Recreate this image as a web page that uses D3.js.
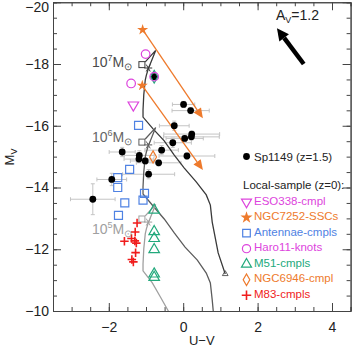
<!DOCTYPE html>
<html>
<head>
<meta charset="utf-8">
<script src="https://cdn.jsdelivr.net/npm/d3@7"></script>
<style>
body { margin: 0; background: #fff; }
svg { display: block; font-family: "Liberation Sans", Arial, sans-serif; }
</style>
</head>
<body>
<div id="chart"></div>
<script>
// Sp1149 knots (z=1.5) with error bars
var spX    = [0.01, 0.20, -0.24, 0.23, 0.22, 0.04, -0.28, -0.58, 0.10, -0.66, -0.93, -1.64, -1.18, -1.19, -1.02, -1.92, -2.43, -0.78];
var spY    = [-16.69, -16.49, -16.00, -15.73, -15.64, -15.59, -15.45, -15.21, -15.02, -14.80, -14.43, -15.15, -15.04, -14.92, -14.86, -14.26, -13.62, -17.59];
var spXErr = [0.3, 0.5, 0.4, 0.75, 0.75, 0.5, 0.5, 0.45, 0.75, 0.6, 0.7, 0.35, 0.4, 0.4, 0.4, 0.4, 0.6, 0];
var spYErr = [0.1, 0.1, 0.15, 0.1, 0.1, 0.1, 0.15, 0.15, 0.1, 0.1, 0.15, 0.15, 0.15, 0.1, 0.1, 0.2, 0.5, 0];

// local sample
var esoX = [-1.34], esoY = [-16.67];
var ngc7252X = [-1.09, -1.10], ngc7252Y = [-19.11, -17.30];
var fadeTipX = [0.53, 0.53], fadeTipY = [-16.24, -14.57];
var antX = [-1.20, -1.44, -1.76, -1.76, -1.04, -1.08, -1.57, -1.74];
var antY = [-16.01, -14.59, -14.32, -14.00, -13.81, -13.59, -13.50, -13.10];
var haroX = [-1.01, -1.40, -0.78], haroY = [-18.32, -17.37, -17.59];
var m51X = [-0.78, -0.78, -0.78, -0.78, -0.78, -0.78];
var m51Y = [-13.27, -12.57, -12.35, -11.99, -11.20, -11.09];
var ngc6946X = [-0.81], ngc6946Y = [-14.99];
var m83X = [-1.24, -1.29, -1.58, -1.39, -1.30, -1.26, -1.28, -1.38, -1.34];
var m83Y = [-12.85, -12.56, -12.26, -12.35, -12.27, -12.20, -11.89, -11.67, -11.59];
var hiliteX = [-0.78], hiliteY = [-17.59];

// cluster tracks for 1e7, 1e6, 1e5 Msun
var trk7X = [-1.02, -0.74, -0.94, -0.99, -1.02, -1.06, -1.08, -1.08, -0.81, -0.51, -0.24, 0.03, 0.35, 0.62, 0.73, 0.78, 0.94, 1.13];
var trk7Y = [-18.07, -18.44, -17.84, -17.64, -17.48, -17.00, -16.51, -16.28, -15.90, -15.51, -15.05, -14.63, -14.18, -13.76, -13.43, -12.88, -11.88, -11.20];
var trk6X = [-1.02, -0.74, -0.94, -0.99, -1.02, -1.06, -1.08, -1.08, -0.81, -0.51, -0.24, 0.05, 0.38, 0.62, 0.73, 0.78, 0.83];
var trk6Y = [-15.57, -15.94, -15.34, -15.15, -14.99, -14.50, -14.02, -13.79, -13.40, -12.98, -12.53, -12.07, -11.65, -11.23, -10.91, -10.36, -9.71];
var trk5X = [-1.02, -0.74, -0.94, -0.99, -1.02, -1.06, -1.08, -1.08, -0.83, -0.62, -0.40, -0.19];
var trk5Y = [-13.08, -13.45, -12.85, -12.66, -12.50, -12.01, -11.52, -11.30, -10.91, -10.47, -10.00, -9.55];
var trkSqX = [-1.11, -1.11, -1.11], trkSqY = [-17.98, -15.47, -12.98];
var trkAstX = [-0.94, -0.94, -0.94], trkAstY = [-17.87, -15.38, -12.88];
var trkEndX = [1.13], trkEndY = [-11.20];
var trkColors = ["#3a3a3a", "#5c5c5c", "#a0a0a0"];
var labColors = ["#4a4a4a", "#666666", "#a0a0a0"];
var massLabels = ["7", "6", "5"];
var massLabelY = [-17.89, -15.47, -12.49];

// extinction vector
var avX = [3.24, 2.52], avY = [-18.0, -19.16];

var xMajor = [-2, 0, 2, 4];
var yMajor = [-20, -18, -16, -14, -12, -10];

var legendNames = ["ESO338-cmpl", "NGC7252-SSCs", "Antennae-cmpls", "Haro11-knots", "M51-cmpls", "NGC6946-cmpl", "M83-cmpls"];
var legendSyms  = ["tridown", "star", "square", "circle", "triangle", "diamond", "plus"];
var legendCols  = ["#dd44dd", "#ee7a2c", "#4f82e3", "#dd44dd", "#22a97c", "#ee7a2c", "#f01c1c"];

var W = 354, H = 354;
var L = 53, R = 350.6, T = 2.25, B = 311;

var svg = d3.select("#chart").append("svg").attr("width", W).attr("height", H);
var x = d3.scaleLinear().domain([-3.5, 4.5]).range([L, R]);
var y = d3.scaleLinear().domain([-20, -10]).range([T, B]);

svg.append("clipPath").attr("id", "clip").append("rect")
    .attr("x", L).attr("y", T).attr("width", R - L).attr("height", B - T);

var axCol = "#444";
var yMinor = d3.range(-20, -9.9, 0.5), xMinor = d3.range(-3.5, 4.51, 0.5);

function styleAxis(g) {
    g.selectAll("path").attr("stroke", axCol);
    g.selectAll("line").attr("stroke", axCol);
    g.selectAll("text").attr("fill", "#222").style("font-size", "14px").style("font-family", "Liberation Sans, Arial, sans-serif");
}

// minor ticks on all sides
svg.append("g").attr("transform", `translate(0,${B})`).call(d3.axisBottom(x).tickValues(xMinor).tickSize(-4).tickFormat("")).call(styleAxis);
svg.append("g").attr("transform", `translate(0,${T})`).call(d3.axisTop(x).tickValues(xMinor).tickSize(-4).tickFormat("")).call(styleAxis);
svg.append("g").attr("transform", `translate(${L},0)`).call(d3.axisLeft(y).tickValues(yMinor).tickSize(-4).tickFormat("")).call(styleAxis);
svg.append("g").attr("transform", `translate(${R},0)`).call(d3.axisRight(y).tickValues(yMinor).tickSize(-4).tickFormat("")).call(styleAxis);

// major ticks
svg.append("g").attr("transform", `translate(0,${B})`).call(d3.axisBottom(x).tickValues(xMajor).tickSizeInner(-8).tickSizeOuter(0).tickPadding(11)).call(styleAxis);
svg.append("g").attr("transform", `translate(0,${T})`).call(d3.axisTop(x).tickValues(xMajor).tickSizeInner(-8).tickSizeOuter(0).tickFormat("")).call(styleAxis);
var yAx = svg.append("g").attr("transform", `translate(${L},0)`).call(d3.axisLeft(y).tickValues(yMajor).tickSizeInner(-8).tickSizeOuter(0).tickPadding(4)).call(styleAxis);
svg.append("g").attr("transform", `translate(${R},0)`).call(d3.axisRight(y).tickValues(yMajor).tickSizeInner(-8).tickSizeOuter(0).tickFormat("")).call(styleAxis);
yAx.selectAll(".tick").filter(d => d === -20).select("text").attr("y", 5);

// axis titles
svg.append("text").attr("x", (L + R) / 2).attr("y", 345).attr("text-anchor", "middle")
    .style("font-size", "13px").attr("fill", "#222").text("U\u2212V");
var yl = svg.append("text").attr("transform", "translate(14,157) rotate(-90)").attr("text-anchor", "middle")
    .style("font-size", "13px").attr("fill", "#222");
yl.append("tspan").text("M");
yl.append("tspan").attr("dy", 3).style("font-size", "9px").text("V");

var plot = svg.append("g").attr("clip-path", "url(#clip)");

// error bars
var ebCol = "#c4c4c4";
var eb = plot.append("g").attr("stroke", ebCol).attr("stroke-width", 1);
spX.forEach(function(v, i) {
    if (spXErr[i] > 0) {
        eb.append("line").attr("x1", x(v - spXErr[i])).attr("x2", x(v + spXErr[i])).attr("y1", y(spY[i])).attr("y2", y(spY[i]));
        [v - spXErr[i], v + spXErr[i]].forEach(e => eb.append("line").attr("x1", x(e)).attr("x2", x(e)).attr("y1", y(spY[i]) - 2).attr("y2", y(spY[i]) + 2));
    }
    if (spYErr[i] > 0) {
        eb.append("line").attr("x1", x(v)).attr("x2", x(v)).attr("y1", y(spY[i] - spYErr[i])).attr("y2", y(spY[i] + spYErr[i]));
        [spY[i] - spYErr[i], spY[i] + spYErr[i]].forEach(e => eb.append("line").attr("x1", x(v) - 2).attr("x2", x(v) + 2).attr("y1", y(e)).attr("y2", y(e)));
    }
});

// tracks
var line = d3.line().x(d => x(d[0])).y(d => y(d[1]));
[[trk7X, trk7Y], [trk6X, trk6Y], [trk5X, trk5Y]].forEach(function(t, k) {
    plot.append("path").datum(d3.zip(t[0], t[1])).attr("d", line)
        .attr("fill", "none").attr("stroke", trkColors[k]).attr("stroke-width", 1.3);
    plot.append("rect").attr("x", x(trkSqX[k]) - 3).attr("y", y(trkSqY[k]) - 3).attr("width", 6).attr("height", 6)
        .attr("fill", "none").attr("stroke", trkColors[k]).attr("stroke-width", 1);
    var ax = x(trkAstX[k]), ay = y(trkAstY[k]);
    [0, 60, 120].forEach(function(a) {
        var r = a * Math.PI / 180;
        plot.append("line").attr("x1", ax - 4 * Math.cos(r)).attr("x2", ax + 4 * Math.cos(r))
            .attr("y1", ay - 4 * Math.sin(r)).attr("y2", ay + 4 * Math.sin(r))
            .attr("stroke", trkColors[k]).attr("stroke-width", 1);
    });
    var lab = svg.append("text").attr("x", 92).attr("y", y(massLabelY[k])).attr("fill", labColors[k])
        .style("font-size", "14px");
    lab.append("tspan").text("10");
    lab.append("tspan").attr("dy", -6).style("font-size", "9px").text(massLabels[k]);
    lab.append("tspan").attr("dy", 6).text("M");
    lab.append("tspan").attr("dy", 3).style("font-size", "10px").text("\u2299");
});
plot.append("path").attr("d", d3.symbol(d3.symbolTriangle, 14)())
    .attr("transform", `translate(${x(trkEndX[0])},${y(trkEndY[0])})`)
    .attr("fill", "none").attr("stroke", trkColors[0]).attr("stroke-width", 0.8);

// marker drawing
function drawSym(g, type, cx, cy, col, scale) {
    scale = scale || 1;
    if (type === "circle") {
        g.append("circle").attr("cx", cx).attr("cy", cy).attr("r", 4.3 * scale).attr("fill", "none").attr("stroke", col).attr("stroke-width", 1.2);
    } else if (type === "plus") {
        g.append("path").attr("d", `M${cx - 5 * scale},${cy}H${cx + 5 * scale}M${cx},${cy - 5 * scale}V${cy + 5 * scale}`)
            .attr("stroke", col).attr("stroke-width", 1.6).attr("fill", "none");
    } else if (type === "star") {
        g.append("path").attr("d", d3.symbol(d3.symbolStar, 38 * scale * scale)())
            .attr("transform", `translate(${cx},${cy})`).attr("fill", col).attr("stroke", "none");
    } else {
        var sym = {square: d3.symbolSquare, triangle: d3.symbolTriangle, tridown: d3.symbolTriangle, diamond: d3.symbolDiamond}[type];
        var size = {square: 64, triangle: 48, tridown: 48, diamond: 42}[type] * scale * scale;
        g.append("path").attr("d", d3.symbol(sym, size)())
            .attr("transform", `translate(${cx},${cy})` + (type === "tridown" ? " rotate(180)" : ""))
            .attr("fill", "none").attr("stroke", col).attr("stroke-width", 1.2);
    }
}

// NGC7252 fading arrows
var orange = "#ee7a2c";
ngc7252X.forEach(function(v, i) {
    var x0 = x(v), y0 = y(ngc7252Y[i]), x1 = x(fadeTipX[i]), y1 = y(fadeTipY[i]);
    var ang = Math.atan2(y1 - y0, x1 - x0);
    var hl = 10, hw = 4.5;
    var bx = x1 - hl * Math.cos(ang), by = y1 - hl * Math.sin(ang);
    plot.append("line").attr("x1", x0).attr("y1", y0).attr("x2", bx).attr("y2", by).attr("stroke", orange).attr("stroke-width", 1.3);
    plot.append("path").attr("d", `M${x1},${y1}L${bx + hw * Math.sin(ang)},${by - hw * Math.cos(ang)}L${bx - hw * Math.sin(ang)},${by + hw * Math.cos(ang)}Z`)
        .attr("fill", orange);
});

var mk = plot.append("g");
antX.forEach((v, i) => drawSym(mk, "square", x(v), y(antY[i]), legendCols[2]));
m51X.forEach((v, i) => drawSym(mk, "triangle", x(v), y(m51Y[i]), legendCols[4]));
m83X.forEach((v, i) => drawSym(mk, "plus", x(v), y(m83Y[i]), legendCols[6], 0.85));
esoX.forEach((v, i) => drawSym(mk, "tridown", x(v), y(esoY[i]), legendCols[0]));
ngc7252X.forEach((v, i) => drawSym(mk, "star", x(v), y(ngc7252Y[i]), legendCols[1]));

// Sp1149 points
spX.forEach(function(v, i) {
    mk.append("circle").attr("cx", x(v)).attr("cy", y(spY[i])).attr("r", 3.4).attr("fill", "#000");
});
ngc6946X.forEach((v, i) => drawSym(mk, "diamond", x(v), y(ngc6946Y[i]), legendCols[5]));
hiliteX.forEach((v, i) => drawSym(mk, "diamond", x(v), y(hiliteY[i]), legendCols[4], 1.05));
haroX.forEach((v, i) => drawSym(mk, "circle", x(v), y(haroY[i]), legendCols[3]));

// extinction arrow
(function() {
    var x0 = x(avX[0]), y0 = y(avY[0]), x1 = x(avX[1]), y1 = y(avY[1]);
    var ang = Math.atan2(y1 - y0, x1 - x0);
    var hl = 12, hw = 6;
    var bx = x1 - hl * Math.cos(ang), by = y1 - hl * Math.sin(ang);
    svg.append("line").attr("x1", x0).attr("y1", y0).attr("x2", bx).attr("y2", by).attr("stroke", "#000").attr("stroke-width", 4.5);
    svg.append("path").attr("d", `M${x1},${y1}L${bx + hw * Math.sin(ang)},${by - hw * Math.cos(ang)}L${bx - hw * Math.sin(ang)},${by + hw * Math.cos(ang)}Z`).attr("fill", "#000");
    var t = svg.append("text").attr("x", 276).attr("y", 20).style("font-size", "14px").attr("fill", "#222");
    t.append("tspan").text("A");
    t.append("tspan").attr("dy", 3).style("font-size", "9px").text("V");
    t.append("tspan").attr("dy", -3).text("=1.2");
})();

// legend
var lg = svg.append("g").style("font-size", "11.5px");
lg.append("circle").attr("cx", 246.5).attr("cy", 156.5).attr("r", 3.4).attr("fill", "#000");
lg.append("text").attr("x", 254).attr("y", 160.5).attr("fill", "#222").text("Sp1149 (z=1.5)");
lg.append("text").attr("x", 243).attr("y", 189).attr("fill", "#222").text("Local-sample (z=0):");
legendNames.forEach(function(n, i) {
    var cy = 201 + i * 15.55;
    drawSym(lg, legendSyms[i], 246.5, cy + 1, legendCols[i], legendSyms[i] === "star" ? 1.1 : 0.95);
    lg.append("text").attr("x", 254).attr("y", cy + 3.5).attr("fill", legendCols[i]).text(n);
});
</script>
</body>
</html>
